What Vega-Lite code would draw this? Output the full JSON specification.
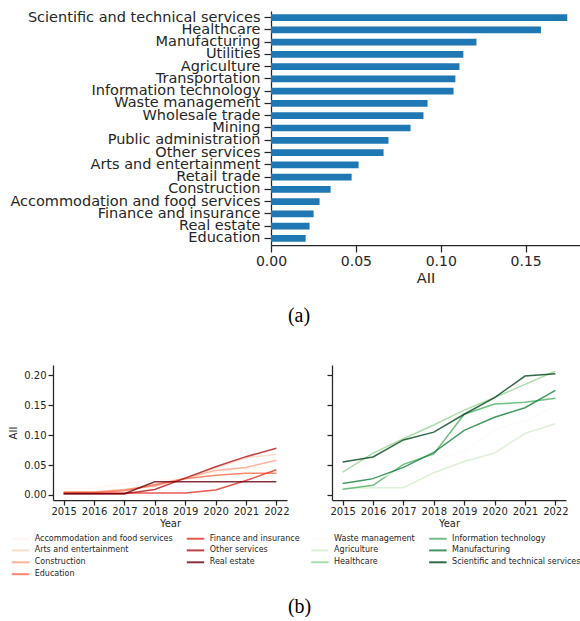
{
  "$schema": "https://vega.github.io/schema/vega-lite/v6.json",
  "background": "white",
  "padding": {"left": 8, "top": 9, "right": 0, "bottom": 0},
  "config": {
    "view": {"stroke": null},
    "font": "DejaVu Sans",
    "axis": {
      "grid": false,
      "domainColor": "#262626",
      "tickColor": "#262626",
      "labelColor": "#262626",
      "titleColor": "#262626",
      "domainWidth": 1.25,
      "tickWidth": 1.25,
      "labelFont": "DejaVu Sans",
      "titleFont": "DejaVu Sans",
      "titleFontWeight": "normal"
    },
    "legend": {"labelFont": "DejaVu Sans", "labelColor": "#262626"}
  },
  "datasets": {
    "bars": [
      {"industry": "Scientific and technical services", "aii": 0.1745},
      {"industry": "Healthcare", "aii": 0.159},
      {"industry": "Manufacturing", "aii": 0.121},
      {"industry": "Utilities", "aii": 0.1133},
      {"industry": "Agriculture", "aii": 0.111},
      {"industry": "Transportation", "aii": 0.1086},
      {"industry": "Information technology", "aii": 0.1075},
      {"industry": "Waste management", "aii": 0.0922},
      {"industry": "Wholesale trade", "aii": 0.0898},
      {"industry": "Mining", "aii": 0.0822},
      {"industry": "Public administration", "aii": 0.0692},
      {"industry": "Other services", "aii": 0.0663},
      {"industry": "Arts and entertainment", "aii": 0.0516},
      {"industry": "Retail trade", "aii": 0.0475},
      {"industry": "Construction", "aii": 0.0351},
      {"industry": "Accommodation and food services", "aii": 0.0286},
      {"industry": "Finance and insurance", "aii": 0.0251},
      {"industry": "Real estate", "aii": 0.0227},
      {"industry": "Education", "aii": 0.0204}
    ],
    "reds": [
      {"industry": "Accommodation and food services", "year": 2015, "aii": 0.010},
      {"industry": "Accommodation and food services", "year": 2016, "aii": 0.011},
      {"industry": "Accommodation and food services", "year": 2017, "aii": 0.019},
      {"industry": "Accommodation and food services", "year": 2018, "aii": 0.024},
      {"industry": "Accommodation and food services", "year": 2019, "aii": 0.028},
      {"industry": "Accommodation and food services", "year": 2020, "aii": 0.038},
      {"industry": "Accommodation and food services", "year": 2021, "aii": 0.044},
      {"industry": "Accommodation and food services", "year": 2022, "aii": 0.047},
      {"industry": "Arts and entertainment", "year": 2015, "aii": 0.005},
      {"industry": "Arts and entertainment", "year": 2016, "aii": 0.005},
      {"industry": "Arts and entertainment", "year": 2017, "aii": 0.008},
      {"industry": "Arts and entertainment", "year": 2018, "aii": 0.018},
      {"industry": "Arts and entertainment", "year": 2019, "aii": 0.028},
      {"industry": "Arts and entertainment", "year": 2020, "aii": 0.045},
      {"industry": "Arts and entertainment", "year": 2021, "aii": 0.062},
      {"industry": "Arts and entertainment", "year": 2022, "aii": 0.068},
      {"industry": "Construction", "year": 2015, "aii": 0.005},
      {"industry": "Construction", "year": 2016, "aii": 0.005},
      {"industry": "Construction", "year": 2017, "aii": 0.009},
      {"industry": "Construction", "year": 2018, "aii": 0.015},
      {"industry": "Construction", "year": 2019, "aii": 0.028},
      {"industry": "Construction", "year": 2020, "aii": 0.041},
      {"industry": "Construction", "year": 2021, "aii": 0.046},
      {"industry": "Construction", "year": 2022, "aii": 0.058},
      {"industry": "Education", "year": 2015, "aii": 0.004},
      {"industry": "Education", "year": 2016, "aii": 0.004},
      {"industry": "Education", "year": 2017, "aii": 0.007},
      {"industry": "Education", "year": 2018, "aii": 0.017},
      {"industry": "Education", "year": 2019, "aii": 0.027},
      {"industry": "Education", "year": 2020, "aii": 0.033},
      {"industry": "Education", "year": 2021, "aii": 0.036},
      {"industry": "Education", "year": 2022, "aii": 0.036},
      {"industry": "Finance and insurance", "year": 2015, "aii": 0.003},
      {"industry": "Finance and insurance", "year": 2016, "aii": 0.003},
      {"industry": "Finance and insurance", "year": 2017, "aii": 0.003},
      {"industry": "Finance and insurance", "year": 2018, "aii": 0.003},
      {"industry": "Finance and insurance", "year": 2019, "aii": 0.003},
      {"industry": "Finance and insurance", "year": 2020, "aii": 0.008},
      {"industry": "Finance and insurance", "year": 2021, "aii": 0.024},
      {"industry": "Finance and insurance", "year": 2022, "aii": 0.042},
      {"industry": "Other services", "year": 2015, "aii": 0.002},
      {"industry": "Other services", "year": 2016, "aii": 0.002},
      {"industry": "Other services", "year": 2017, "aii": 0.002},
      {"industry": "Other services", "year": 2018, "aii": 0.009},
      {"industry": "Other services", "year": 2019, "aii": 0.028},
      {"industry": "Other services", "year": 2020, "aii": 0.047},
      {"industry": "Other services", "year": 2021, "aii": 0.064},
      {"industry": "Other services", "year": 2022, "aii": 0.078},
      {"industry": "Real estate", "year": 2015, "aii": 0.002},
      {"industry": "Real estate", "year": 2016, "aii": 0.002},
      {"industry": "Real estate", "year": 2017, "aii": 0.002},
      {"industry": "Real estate", "year": 2018, "aii": 0.022},
      {"industry": "Real estate", "year": 2019, "aii": 0.022},
      {"industry": "Real estate", "year": 2020, "aii": 0.022},
      {"industry": "Real estate", "year": 2021, "aii": 0.022},
      {"industry": "Real estate", "year": 2022, "aii": 0.022}
    ],
    "greens": [
      {"industry": "Agriculture", "year": 2015, "aii": 0.0105},
      {"industry": "Agriculture", "year": 2016, "aii": 0.012},
      {"industry": "Agriculture", "year": 2017, "aii": 0.012},
      {"industry": "Agriculture", "year": 2018, "aii": 0.037},
      {"industry": "Agriculture", "year": 2019, "aii": 0.056},
      {"industry": "Agriculture", "year": 2020, "aii": 0.070},
      {"industry": "Agriculture", "year": 2021, "aii": 0.103},
      {"industry": "Agriculture", "year": 2022, "aii": 0.119},
      {"industry": "Healthcare", "year": 2015, "aii": 0.038},
      {"industry": "Healthcare", "year": 2016, "aii": 0.070},
      {"industry": "Healthcare", "year": 2017, "aii": 0.094},
      {"industry": "Healthcare", "year": 2018, "aii": 0.117},
      {"industry": "Healthcare", "year": 2019, "aii": 0.142},
      {"industry": "Healthcare", "year": 2020, "aii": 0.163},
      {"industry": "Healthcare", "year": 2021, "aii": 0.185},
      {"industry": "Healthcare", "year": 2022, "aii": 0.207},
      {"industry": "Information technology", "year": 2015, "aii": 0.0094},
      {"industry": "Information technology", "year": 2016, "aii": 0.016},
      {"industry": "Information technology", "year": 2017, "aii": 0.051},
      {"industry": "Information technology", "year": 2018, "aii": 0.0685},
      {"industry": "Information technology", "year": 2019, "aii": 0.135},
      {"industry": "Information technology", "year": 2020, "aii": 0.152},
      {"industry": "Information technology", "year": 2021, "aii": 0.155},
      {"industry": "Information technology", "year": 2022, "aii": 0.162},
      {"industry": "Manufacturing", "year": 2015, "aii": 0.019},
      {"industry": "Manufacturing", "year": 2016, "aii": 0.027},
      {"industry": "Manufacturing", "year": 2017, "aii": 0.046},
      {"industry": "Manufacturing", "year": 2018, "aii": 0.071},
      {"industry": "Manufacturing", "year": 2019, "aii": 0.108},
      {"industry": "Manufacturing", "year": 2020, "aii": 0.130},
      {"industry": "Manufacturing", "year": 2021, "aii": 0.146},
      {"industry": "Manufacturing", "year": 2022, "aii": 0.175},
      {"industry": "Scientific and technical services", "year": 2015, "aii": 0.055},
      {"industry": "Scientific and technical services", "year": 2016, "aii": 0.0635},
      {"industry": "Scientific and technical services", "year": 2017, "aii": 0.092},
      {"industry": "Scientific and technical services", "year": 2018, "aii": 0.105},
      {"industry": "Scientific and technical services", "year": 2019, "aii": 0.135},
      {"industry": "Scientific and technical services", "year": 2020, "aii": 0.163},
      {"industry": "Scientific and technical services", "year": 2021, "aii": 0.199},
      {"industry": "Scientific and technical services", "year": 2022, "aii": 0.203},
      {"industry": "Waste management", "year": 2015, "aii": 0.012},
      {"industry": "Waste management", "year": 2016, "aii": 0.025},
      {"industry": "Waste management", "year": 2017, "aii": 0.0425},
      {"industry": "Waste management", "year": 2018, "aii": 0.057},
      {"industry": "Waste management", "year": 2019, "aii": 0.073},
      {"industry": "Waste management", "year": 2020, "aii": 0.109},
      {"industry": "Waste management", "year": 2021, "aii": 0.124},
      {"industry": "Waste management", "year": 2022, "aii": 0.149}
    ]
  },
  "spacing": 39,
  "vconcat": [
    {
      "data": {"name": "bars"},
      "width": 527,
      "height": 234,
      "title": {"text": "(a)", "orient": "bottom", "anchor": "middle", "font": "Liberation Serif", "fontSize": 20, "fontWeight": "normal", "color": "#000000", "offset": 21, "dx": -17.5},
      "mark": {"type": "bar", "color": "#1f77b4"},
      "encoding": {
        "y": {
          "field": "industry", "type": "nominal", "sort": "-x",
          "scale": {"paddingInner": 0.45, "paddingOuter": 0.27},
          "axis": {"title": null, "offset": -218, "labelFontSize": 14.5, "tickSize": 7, "labelPadding": 4, "labelLimit": 400}
        },
        "x": {
          "field": "aii", "type": "quantitative",
          "scale": {"domain": [0, 0.182], "range": [218, 527], "nice": false},
          "axis": {"title": "AII", "values": [0, 0.05, 0.1, 0.15], "format": ".2f", "labelFlush": false, "labelFontSize": 14, "tickSize": 7, "labelPadding": 2, "titleFontSize": 14.5, "titlePadding": 3}
        }
      }
    },
    {
      "hconcat": [
        {
          "data": {"name": "reds"},
          "width": 234,
          "height": 135,
          "mark": {"type": "line", "strokeWidth": 1.5, "opacity": 0.8},
          "encoding": {
            "x": {"field": "year", "type": "quantitative", "scale": {"domain": [2014.65, 2022.35], "nice": false, "zero": false},
              "axis": {"title": "Year", "values": [2015, 2016, 2017, 2018, 2019, 2020, 2021, 2022], "format": "d", "labelFlush": false, "labelFontSize": 10, "tickSize": 5, "labelPadding": 1.5, "titleFontSize": 10, "titlePadding": 2}},
            "y": {"field": "aii", "type": "quantitative", "scale": {"domain": [-0.0086, 0.2175], "nice": false, "zero": false},
              "axis": {"title": "AII", "values": [0, 0.05, 0.1, 0.15, 0.2], "format": ".2f", "labelFontSize": 10, "tickSize": 5, "labelPadding": 2, "titleFontSize": 10, "titlePadding": 5}},
            "color": {
              "field": "industry", "type": "nominal",
              "scale": {
                "domain": ["Accommodation and food services", "Arts and entertainment", "Construction", "Education", "Finance and insurance", "Other services", "Real estate"],
                "range": ["#fff5f0", "#fdd4c2", "#fca082", "#fb6a4a", "#e32f27", "#b21218", "#67000d"]
              },
              "legend": {
                "orient": "none", "legendX": -38, "legendY": 168, "title": null, "columns": 2, "columnPadding": 9, "rowPadding": 1.9,
                "labelFontSize": 8, "labelOffset": 8.7, "symbolType": "M-2,0H2", "symbolSize": 76, "symbolStrokeWidth": 2, "symbolOpacity": 0.8
              }
            }
          }
        },
        {
          "data": {"name": "greens"},
          "width": 234,
          "height": 135,
          "mark": {"type": "line", "strokeWidth": 1.5, "opacity": 0.8},
          "encoding": {
            "x": {"field": "year", "type": "quantitative", "scale": {"domain": [2014.65, 2022.35], "nice": false, "zero": false},
              "axis": {"title": "Year", "values": [2015, 2016, 2017, 2018, 2019, 2020, 2021, 2022], "format": "d", "labelFlush": false, "labelFontSize": 10, "tickSize": 5, "labelPadding": 1.5, "titleFontSize": 10, "titlePadding": 2}},
            "y": {"field": "aii", "type": "quantitative", "scale": {"domain": [-0.0086, 0.2175], "nice": false, "zero": false},
              "axis": {"title": null, "labels": false, "values": [0, 0.05, 0.1, 0.15, 0.2], "tickSize": 5}},
            "color": {
              "field": "industry", "type": "nominal",
              "scale": {
                "domain": ["Waste management", "Agriculture", "Healthcare", "Information technology", "Manufacturing", "Scientific and technical services"],
                "range": ["#f7fcf5", "#d3eecd", "#98d594", "#4bb062", "#157f3b", "#00441b"]
              },
              "legend": {
                "orient": "none", "legendX": -17.6, "legendY": 168, "title": null, "columns": 2, "columnPadding": 9, "rowPadding": 1.9,
                "labelFontSize": 8, "labelOffset": 8.7, "symbolType": "M-2,0H2", "symbolSize": 76, "symbolStrokeWidth": 2, "symbolOpacity": 0.8
              }
            }
          }
        }
      ],
      "spacing": 45,
      "bounds": "flush",
      "resolve": {"scale": {"color": "independent"}},
      "title": {"text": "(b)", "orient": "bottom", "anchor": "middle", "font": "Liberation Serif", "fontSize": 20, "fontWeight": "normal", "color": "#000000", "offset": 18, "dx": 4.5}
    }
  ]
}
